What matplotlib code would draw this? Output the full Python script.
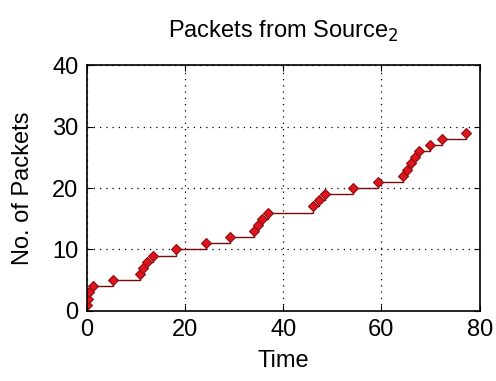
import numpy as np
import matplotlib
matplotlib.use("Agg")
import matplotlib.pyplot as plt

plt.rcParams['font.family'] = ['Liberation Sans', 'DejaVu Sans']

# arrival times of packets
times = [0.0, 0.2, 0.5, 1.2, 5.4, 10.8, 11.5, 12.2, 13.5, 18.2, 24.3, 29.2,
         34.0, 34.8, 35.6, 37.0, 46.0, 47.2, 48.6, 54.3, 59.4,
         64.3, 65.2, 66.0, 66.8, 67.6, 69.8, 72.4, 77.3]
packets = list(range(1, len(times) + 1))

fig = plt.figure(figsize=(4.96, 3.81), dpi=100)
ax = fig.add_axes([0.175, 0.184, 0.792, 0.645])

ax.step(times, packets, where='post', color='#7a0a0a', lw=1.0)
ax.plot(times, packets, linestyle='none', marker='D', ms=5,
        mfc='#e0141e', mec='#8b1010', mew=0.8)

ax.set_xlim(0, 80)
ax.set_ylim(0, 40)
ax.set_xticks([0, 20, 40, 60, 80])
ax.set_yticks([0, 10, 20, 30, 40])
ax.grid(True, linestyle=(0, (1, 4)), color='black', lw=0.9)
ax.tick_params(direction='in', top=True, right=True, labelsize=17, length=4)
ax.tick_params(axis='x', pad=6)
ax.tick_params(axis='y', pad=6)
for s in ax.spines.values():
    s.set_linewidth(1.2)

ax.set_title('Packets from Source$_2$', fontsize=17, pad=20)
ax.set_xlabel('Time', fontsize=17, labelpad=6)
ax.set_ylabel('No. of Packets', fontsize=17, labelpad=13)

fig.savefig('out.png', dpi=100)
